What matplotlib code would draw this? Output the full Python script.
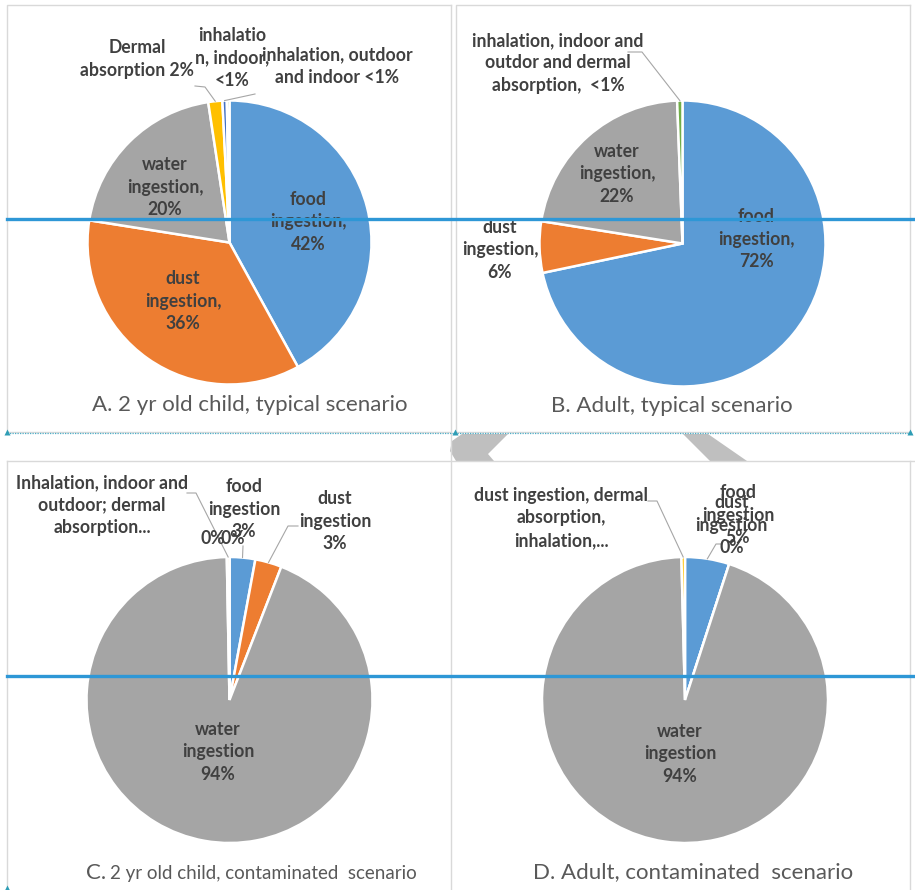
import matplotlib
matplotlib.use("Agg")
import matplotlib.pyplot as plt
import numpy as np
from matplotlib.patches import Polygon

plt.rcParams['font.family'] = ['Lato', 'DejaVu Sans']

W, H = 915, 890
# ---------------- data ----------------
# Panel A: 2 yr old child, typical
a_vals = [42.0, 35.5, 20.1, 1.6, 0.5, 0.3]
a_cols = ['#5B9BD5', '#ED7D31', '#A5A5A5', '#FFC000', '#4472C4', '#70AD47']
a_labels = ['food\ningestion,\n42%', 'dust\ningestion,\n36%', 'water\ningestion,\n20%',
            'Dermal\nabsorption 2%', 'inhalatio\nn, indoor,\n<1%',
            'inhalation, outdoor\nand indoor <1%']
# Panel B: Adult, typical
b_vals = [71.7, 5.8, 21.9, 0.6]
b_cols = ['#5B9BD5', '#ED7D31', '#A5A5A5', '#70AD47']
b_labels = ['food\ningestion,\n72%', 'dust\ningestion,\n6%', 'water\ningestion,\n22%',
            'inhalation, indoor and\noutdor and dermal\nabsorption,  <1%']
# Panel C: 2 yr old child, contaminated
c_vals = [2.9, 3.0, 93.8, 0.3, 0.0]
c_cols = ['#5B9BD5', '#ED7D31', '#A5A5A5', '#FFC000', '#4472C4']
c_labels = ['food\ningestion\n3%', 'dust\ningestion\n3%', 'water\ningestion\n94%',
            'Inhalation, indoor and\noutdoor; dermal\nabsorption...', '0%', '0%']
# Panel D: Adult, contaminated
d_vals = [5.0, 0.0, 94.6, 0.4]
d_cols = ['#5B9BD5', '#ED7D31', '#A5A5A5', '#FFC000']
d_labels = ['food\ningestion\n5%', 'dust\ningestion\n0%', 'water\ningestion\n94%',
            'dust ingestion, dermal\nabsorption,\ninhalation,...']
captions = ['A. 2 yr old child, typical scenario', 'B. Adult, typical scenario',
            'C.', '2 yr old child, contaminated  scenario', 'D. Adult, contaminated  scenario']

# ---------------- figure ----------------
fig = plt.figure(figsize=(W / 100, H / 100), dpi=100)
fig.patch.set_facecolor('white')

TXT = '#404040'
CAP = '#595959'
LEAD = '#A6A6A6'
LFS = 12.7
LSP = 1.4


def pie_axes(cx, cy, r, vals, cols):
    ax = fig.add_axes([(cx - r) / W, (H - cy - r) / H, 2 * r / W, 2 * r / H])
    wedges, _ = ax.pie(vals, colors=cols, startangle=90, counterclock=False, radius=1.0,
                       wedgeprops=dict(edgecolor='white', linewidth=1.8))
    ax.set_xlim(-1, 1)
    ax.set_ylim(-1, 1)
    ax.axis('off')
    return ax, wedges


axA, wA = pie_axes(229.5, 242.5, 142, a_vals, a_cols)
axB, wB = pie_axes(682.5, 243.5, 143, b_vals, b_cols)
axC, wC = pie_axes(229.5, 700, 143, c_vals, c_cols)
axD, wD = pie_axes(685, 700, 143, d_vals, d_cols)

ov = fig.add_axes([0, 0, 1, 1])
ov.set_xlim(0, W)
ov.set_ylim(H, 0)
ov.axis('off')
ov.set_zorder(5)
ov.patch.set_alpha(0)


def edge_pt(ax, wedge, frac=1.0):
    ang = np.deg2rad((wedge.theta1 + wedge.theta2) / 2)
    p = ax.transData.transform((frac * np.cos(ang), frac * np.sin(ang)))
    return ov.transData.inverted().transform(p)


def lab(x, y, s, size=LFS, **kw):
    ov.text(x, y, s, ha='center', va='center', fontsize=size, fontweight='bold',
            color=TXT, linespacing=LSP, zorder=3, **kw)


def leader(pts, ax, wedge):
    e = edge_pt(ax, wedge)
    xs = [p[0] for p in pts] + [e[0]]
    ys = [p[1] for p in pts] + [e[1]]
    ov.plot(xs, ys, color=LEAD, lw=0.8, zorder=2)


# panel borders
bc = '#D9D9D9'
for (x0, y0, x1, y1) in [(7, 5, 451, 432), (456, 5, 910, 432)]:
    ov.plot([x0, x1, x1], [y1, y1, y0], color=bc, lw=1, zorder=1)
    ov.plot([x0, x0, x1], [y1, y0, y0], color=bc, lw=1, zorder=1)
ov.plot([7, 915], [461, 461], color=bc, lw=1, zorder=1)
ov.plot([7, 7], [461, 890], color=bc, lw=1, zorder=1)
ov.plot([451, 451], [432, 890], color=bc, lw=1, zorder=1)
ov.plot([910, 910], [461, 890], color=bc, lw=1, zorder=1)

# decorative grey shapes between rows
ov.add_patch(Polygon([(462, 434), (508, 434), (488, 454), (494, 461), (456, 461),
                      (450, 451), (452, 441)], closed=True, fc='#BFBFBF', ec='none', zorder=0.5))
ov.add_patch(Polygon([(683, 434), (708, 434), (747, 461), (710, 461)], closed=True,
                     fc='#BFBFBF', ec='none', zorder=0.5))

# teal selection dotted line + handles
ov.plot([7, 910], [432.5, 432.5], color='#4BACC6', lw=0.9, ls=(0, (1, 1)), zorder=2)
for hx, hy in [(7, 432), (455, 432), (910, 432), (7, 888)]:
    ov.plot([hx], [hy], marker='^', ms=4, color='#2E9DB5', mec='none', zorder=2)

# ---- Panel A labels ----
lab(308, 222, a_labels[0])
lab(183, 301, a_labels[1])
lab(165, 187, a_labels[2])
lab(137, 59, a_labels[3])
lab(232, 58, a_labels[4])
lab(337, 66, a_labels[5])
leader([(195, 86), (205, 87)], axA, wA[3])
leader([(255, 94)], axA, wA[4])
ov.text(250, 405, captions[0], ha='center', va='center', fontsize=16, color=CAP, zorder=3)

# ---- Panel B labels ----
lab(756, 239, b_labels[0])
lab(500, 250, b_labels[1])
lab(617, 174, b_labels[2])
lab(558, 63, b_labels[3])
leader([(628, 52), (642, 52)], axB, wB[3])
ov.text(672, 406, captions[1], ha='center', va='center', fontsize=16, color=CAP, zorder=3)

# ---- Panel C labels ----
lab(244, 509, c_labels[0])
lab(335, 521, c_labels[1])
lab(218, 752, c_labels[2])
lab(102, 505, c_labels[3])
lab(213, 539, c_labels[4])
lab(233, 539, c_labels[5])
leader([(243, 546)], axC, wC[0])
leader([(298, 526), (288, 526)], axC, wC[1])
leader([(187, 493), (196, 493)], axC, wC[3])
ov.text(86, 873, captions[2], ha='left', va='center', fontsize=16, color=CAP, zorder=3)
ov.text(110, 874, captions[3], ha='left', va='center', fontsize=13.5, color=CAP, zorder=3)

# ---- Panel D labels ----
lab(738, 515, d_labels[0])
lab(731.5, 525, d_labels[1])
lab(680, 754, d_labels[2])
lab(561, 518, d_labels[3])
leader([(722, 544), (716, 544)], axD, wD[0])
leader([(648, 501), (657, 501)], axD, wD[3])
ov.text(693.5, 872, captions[4], ha='center', va='center', fontsize=16, color=CAP, zorder=3)

# blue horizontal lines on top
ov.plot([7, 915], [219, 219], color='#2E97D6', lw=2.4, zorder=10)
ov.plot([7, 915], [676, 676], color='#2E97D6', lw=2.4, zorder=10)

fig.savefig('out.png', dpi=100, facecolor='white')
